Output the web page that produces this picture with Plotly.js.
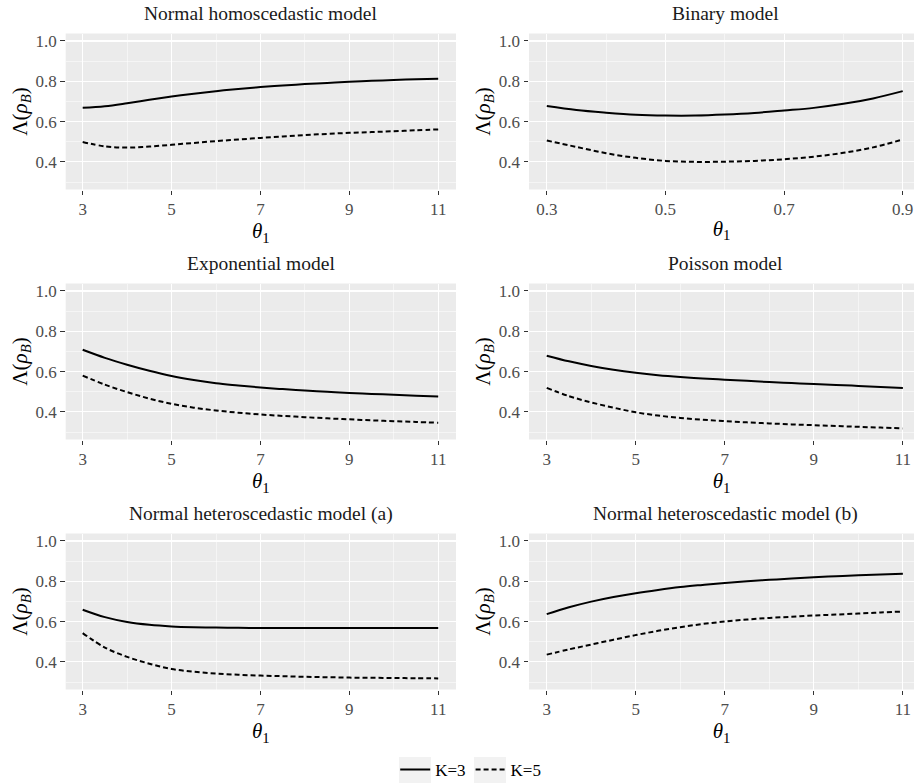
<!DOCTYPE html>
<html>
<head>
<meta charset="utf-8">
<script src="https://cdn.plot.ly/plotly-3.0.1.min.js"></script>
<style>html,body{margin:0;padding:0;background:#fff;}#chart{width:914px;height:783px;}</style>
</head>
<body>
<div id="chart"></div>
<script>
// ---- data ----
const theta = [3, 3.5, 4, 4.5, 5, 5.5, 6, 6.5, 7, 7.5, 8, 8.5, 9, 9.5, 10, 10.5, 11];
const thetaBinary = [0.3, 0.35, 0.4, 0.45, 0.5, 0.55, 0.6, 0.65, 0.7, 0.75, 0.8, 0.85, 0.9];

const panelTitles = ["Normal homoscedastic model", "Binary model", "Exponential model",
                     "Poisson model", "Normal heteroscedastic model (a)", "Normal heteroscedastic model (b)"];
const seriesNames = ["K=3", "K=5"];

const normHomK3 = [0.668, 0.676, 0.691, 0.708, 0.724, 0.738, 0.751, 0.762, 0.771, 0.779, 0.786, 0.792, 0.798, 0.802, 0.806, 0.810, 0.813];
const normHomK5 = [0.499, 0.477, 0.471, 0.476, 0.485, 0.494, 0.503, 0.511, 0.519, 0.526, 0.533, 0.539, 0.544, 0.548, 0.552, 0.557, 0.561];

const binaryK3 = [0.677, 0.657, 0.644, 0.634, 0.630, 0.630, 0.635, 0.643, 0.655, 0.668, 0.688, 0.715, 0.751];
const binaryK5 = [0.506, 0.474, 0.443, 0.420, 0.405, 0.400, 0.401, 0.405, 0.413, 0.426, 0.445, 0.472, 0.511];

const expK3 = [0.708, 0.668, 0.634, 0.604, 0.578, 0.558, 0.542, 0.531, 0.521, 0.513, 0.506, 0.500, 0.494, 0.489, 0.485, 0.480, 0.476];
const expK5 = [0.580, 0.535, 0.498, 0.466, 0.440, 0.421, 0.407, 0.396, 0.387, 0.380, 0.374, 0.368, 0.363, 0.358, 0.354, 0.350, 0.346];

const poisK3 = [0.679, 0.651, 0.628, 0.609, 0.594, 0.582, 0.573, 0.566, 0.560, 0.554, 0.548, 0.543, 0.538, 0.534, 0.529, 0.524, 0.519];
const poisK5 = [0.519, 0.478, 0.447, 0.421, 0.398, 0.382, 0.370, 0.361, 0.354, 0.348, 0.343, 0.338, 0.334, 0.330, 0.326, 0.322, 0.318];

const hetAK3 = [0.659, 0.622, 0.598, 0.584, 0.576, 0.572, 0.570, 0.569, 0.568, 0.568, 0.568, 0.568, 0.568, 0.568, 0.568, 0.568, 0.568];
const hetAK5 = [0.543, 0.471, 0.425, 0.391, 0.365, 0.351, 0.342, 0.336, 0.332, 0.329, 0.326, 0.324, 0.322, 0.321, 0.320, 0.319, 0.318];

const hetBK3 = [0.637, 0.671, 0.699, 0.722, 0.741, 0.757, 0.771, 0.782, 0.792, 0.800, 0.807, 0.814, 0.820, 0.825, 0.830, 0.834, 0.837];
const hetBK5 = [0.436, 0.462, 0.486, 0.510, 0.533, 0.554, 0.572, 0.588, 0.600, 0.610, 0.618, 0.624, 0.630, 0.635, 0.640, 0.645, 0.650];

const panelX = [theta, thetaBinary, theta, theta, theta, theta];
const panelK3 = [normHomK3, binaryK3, expK3, poisK3, hetAK3, hetBK3];
const panelK5 = [normHomK5, binaryK5, expK5, poisK5, hetAK5, hetBK5];

// ---- layout / styling ----
const W = 914, H = 783;
const serif = "Liberation Serif, Times New Roman, serif";
const colLeft = [65.7 / W, 456 / W];
const colRight = [529 / W, 1.0];
const rowTops = [33.5, 283.5, 533.5];
const rowH = 156;
const yRange = [0.263, 1.037];

const traces = [];
const layout = {
  width: W, height: H,
  margin: {l: 0, r: 0, t: 0, b: 0, autoexpand: false},
  paper_bgcolor: "#ffffff",
  plot_bgcolor: "#EBEBEB",
  font: {family: serif, color: "#000"},
  showlegend: true,
  legend: {orientation: "h", x: 0.515, xanchor: "center", y: 1 - 770 / H, yanchor: "middle",
           font: {family: serif, size: 17, color: "#000"}, bgcolor: "rgba(0,0,0,0)",
           traceorder: "normal"},
  annotations: [],
  shapes: [
    {type: "rect", xref: "paper", yref: "paper", x0: 399 / W, x1: 431 / W, y0: 1 - 783 / H, y1: 1 - 757 / H,
     fillcolor: "#F2F2F2", line: {width: 0}, layer: "below"},
    {type: "rect", xref: "paper", yref: "paper", x0: 474 / W, x1: 506 / W, y0: 1 - 783 / H, y1: 1 - 757 / H,
     fillcolor: "#F2F2F2", line: {width: 0}, layer: "below"}
  ]
};

for (let i = 0; i < 6; i++) {
  const r = Math.floor(i / 2), c = i % 2;
  const idx = i === 0 ? "" : String(i + 1);
  const isBinary = i === 1;
  const xd = c === 0 ? colLeft : colRight;
  const top = rowTops[r], bot = top + rowH;
  const yd = [1 - bot / H, 1 - top / H];
  const xr = isBinary ? [0.27, 0.919] : (c === 0 ? [2.618, 11.4] : [2.602, 11.25]);

  layout["xaxis" + idx] = {
    domain: xd, range: xr, anchor: "y" + idx,
    tick0: isBinary ? 0.3 : 3, dtick: isBinary ? 0.2 : 2,
    tickformat: isBinary ? ".1f" : "d",
    showgrid: true, gridcolor: "#ffffff", gridwidth: 1.1,
    minor: {dtick: isBinary ? 0.1 : 1, showgrid: true, gridcolor: "#ffffff", gridwidth: 0.5},
    zeroline: false, showline: false,
    ticks: "outside", ticklen: 4.5, tickwidth: 1, tickcolor: "#333333",
    tickfont: {family: serif, size: 17, color: "#4D4D4D"},
    title: {text: "<i>θ</i><sub>1</sub>", font: {family: serif, size: 21, color: "#000"}, standoff: 2},
    fixedrange: true
  };
  layout["yaxis" + idx] = {
    domain: yd, range: yRange, anchor: "x" + idx,
    tick0: 0.4, dtick: 0.2, tickformat: ".1f",
    showgrid: true, gridcolor: "#ffffff", gridwidth: 1.1,
    minor: {dtick: 0.1, showgrid: true, gridcolor: "#ffffff", gridwidth: 0.5},
    zeroline: false, showline: false,
    ticks: "outside", ticklen: 4.5, tickwidth: 1, tickcolor: "#333333",
    tickfont: {family: serif, size: 17, color: "#4D4D4D"},
    title: {text: "Λ(<i>ρ</i><sub><i>B</i></sub>)", font: {family: serif, size: 21, color: "#000"}, standoff: 2},
    fixedrange: true
  };

  layout.annotations.push({
    text: panelTitles[i], xref: "paper", yref: "paper",
    x: c === 0 ? 260.9 / W : 725 / W, y: 1 - (top - 20) / H,
    xanchor: "center", yanchor: "middle", showarrow: false,
    font: {family: serif, size: 19.5, color: "#1a1a1a"}
  });

  traces.push({
    type: "scatter", mode: "lines", x: panelX[i], y: panelK3[i],
    xaxis: "x" + idx, yaxis: "y" + idx,
    line: {color: "#000", width: 2, dash: "solid", shape: "spline", smoothing: 1},
    name: seriesNames[0], legendgroup: "k3", showlegend: i === 0, hoverinfo: "skip"
  });
  traces.push({
    type: "scatter", mode: "lines", x: panelX[i], y: panelK5[i],
    xaxis: "x" + idx, yaxis: "y" + idx,
    line: {color: "#000", width: 2, dash: "5px,3px", shape: "spline", smoothing: 1},
    name: seriesNames[1], legendgroup: "k5", showlegend: i === 0, hoverinfo: "skip"
  });
}

Plotly.newPlot("chart", traces, layout, {displayModeBar: false, staticPlot: true});
</script>
</body>
</html>
